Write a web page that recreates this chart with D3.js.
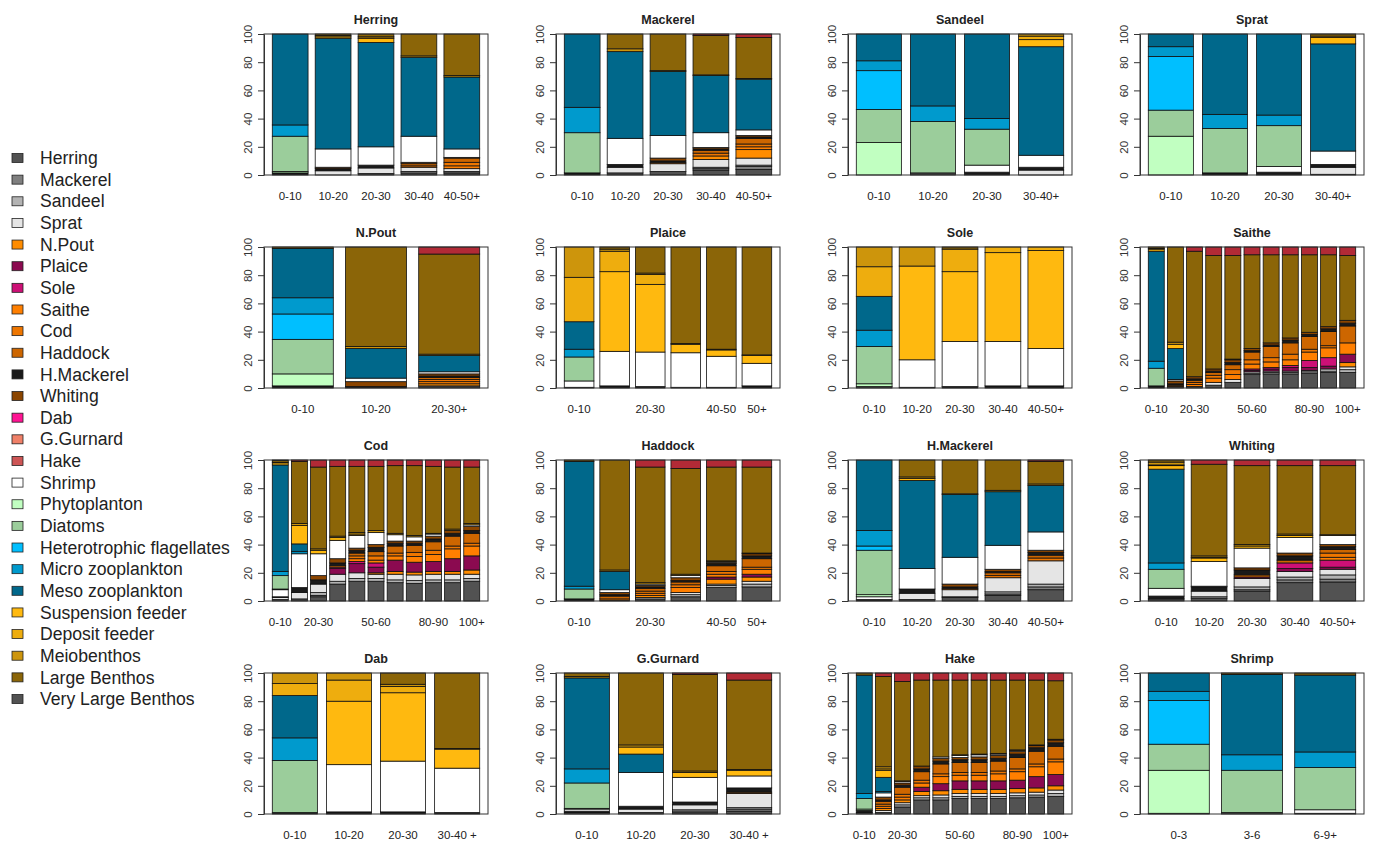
<!DOCTYPE html>
<html>
<head>
<meta charset="utf-8">
<script src="https://cdn.jsdelivr.net/npm/d3@7"></script>
<style>
	body { margin: 0; background: #fff; }
	svg { display: block; font-family: "Liberation Sans", Arial, sans-serif; }
	.lab { fill: #222; }
</style>
</head>
<body>
<svg width="1384" height="845"></svg>
<script>
const svg = d3.select("svg"),
	width = +svg.attr("width"),
	height = +svg.attr("height");

// prey groups, bottom of the stack first
const preyCodes = ["HER", "MAC", "SAN", "SPR", "NPO", "PLA", "SOL", "SAI", "COD", "HAD", "HMA", "WHI", "DAB", "GUR", "HAK", "SHR", "PHY", "DIA", "HFL", "MIC", "MES", "SUS", "DEP", "MEI", "LB", "VLB"];
const preyNames = ["Herring", "Mackerel", "Sandeel", "Sprat", "N.Pout", "Plaice", "Sole", "Saithe", "Cod", "Haddock", "H.Mackerel", "Whiting", "Dab", "G.Gurnard", "Hake", "Shrimp", "Phytoplanton", "Diatoms", "Heterotrophic flagellates", "Micro zooplankton", "Meso zooplankton", "Suspension feeder", "Deposit feeder", "Meiobenthos", "Large Benthos", "Very Large Benthos"];
const preyColors = ["#525252", "#7f7f7f", "#b3b3b3", "#e5e5e5", "#ff8c00", "#8b0a50", "#cd1076", "#ff7f00", "#ee7600", "#cd6600", "#1a1a1a", "#8b4500", "#ff1493", "#f08068", "#cd5555", "#ffffff", "#c1ffc1", "#9bcd9b", "#00bfff", "#009acd", "#00688b", "#ffb90f", "#eead0e", "#cd950c", "#8b6508", "#b22a36"];

const herringAges = ["0-10", "10-20", "20-30", "30-40", "40-50+"];
const herringDiet = [
	{ HMA: 1.5, PHY: 1, DIA: 25, MIC: 8, MES: 64.5 },
	{ SPR: 3, HMA: 1.5, WHI: 1, SHR: 13, MES: 78.5, SUS: 1, DEP: 1, LB: 1 },
	{ HER: 1, SPR: 4, HMA: 2, SHR: 13, MES: 74, SUS: 3, MEI: 1, LB: 2 },
	{ HER: 1.5, SAN: 1, SPR: 3, COD: 1, HAD: 1.5, WHI: 1, SHR: 18.5, MES: 56, MEI: 1, LB: 15.5 },
	{ HER: 1.5, MAC: 1, SPR: 2, SAI: 2, COD: 2.5, HAD: 3, WHI: 0.5, SHR: 6, MES: 51, MEI: 1, LB: 29.5 }
];

const mackerelAges = ["0-10", "10-20", "20-30", "30-40", "40-50+"];
const mackerelDiet = [
	{ HMA: 1.5, DIA: 28.5, MIC: 18, MES: 52 },
	{ HER: 1.5, SPR: 4, HMA: 2, SHR: 18.5, MES: 61.5, MEI: 2, LB: 10.5 },
	{ HER: 2.5, SPR: 5.5, HAD: 1, HMA: 1, WHI: 2, SHR: 16, MES: 45.5, MEI: 0.5, LB: 26 },
	{ HER: 3.5, MAC: 1, SAN: 1, SPR: 5.5, NPO: 2.5, COD: 2, HAD: 2, HMA: 1, WHI: 1, SHR: 10.5, MES: 40.5, MEI: 0.5, LB: 28, VLB: 1 },
	{ HER: 4, MAC: 2, SAN: 1, SPR: 5, NPO: 6, SAI: 2, COD: 2, HAD: 4, HMA: 1, WHI: 1, SHR: 4, MES: 36, MEI: 0.5, LB: 29, VLB: 2.5 }
];

const sandeelAges = ["0-10", "10-20", "20-30", "30-40+"];
const sandeelDiet = [
	{ PHY: 23, DIA: 23.5, HFL: 27.5, MIC: 7, MES: 19 },
	{ HER: 1.5, DIA: 36.5, MIC: 11, MES: 51 },
	{ HMA: 2, SHR: 5, DIA: 25.5, MIC: 7.5, MES: 60 },
	{ SPR: 3.5, HMA: 2, SHR: 8.5, MES: 77, SUS: 5, DEP: 2.5, MEI: 1.5 }
];

const spratAges = ["0-10", "10-20", "20-30", "30-40+"];
const spratDiet = [
	{ PHY: 27.5, DIA: 18.5, HFL: 38, MIC: 7, MES: 9 },
	{ HMA: 1.5, DIA: 31.5, MIC: 10, MES: 57 },
	{ HMA: 2, SHR: 4, DIA: 29, MIC: 7.5, MES: 57.5 },
	{ HER: 0.5, SPR: 5, HMA: 2, SHR: 9.5, MES: 76, SUS: 4.5, DEP: 1, LB: 1.5 }
];

const npoutAges = ["0-10", "10-20", "20-30+"];
const npoutDiet = [
	{ HMA: 1.5, PHY: 8.5, DIA: 24.5, HFL: 18, MIC: 11.5, MES: 35, LB: 1 },
	{ HMA: 1, WHI: 3.5, SHR: 2.5, MES: 21, MEI: 1.5, LB: 70.5 },
	{ HER: 1.5, NPO: 1.5, SAI: 1.5, COD: 1.5, HAD: 1.5, HMA: 1, WHI: 1.5, SHR: 1.5, MES: 11.5, MEI: 1, LB: 71, VLB: 5 }
];

const plaiceAges = ["0-10", "10-20", "20-30", "30-40", "40-50", "50+"];
const plaiceDiet = [
	{ HMA: 0.5, SHR: 4.5, DIA: 17, MIC: 5.5, MES: 19.5, DEP: 31.5, MEI: 21.5 },
	{ HMA: 1.5, SHR: 24.5, SUS: 56.5, DEP: 14.5, MEI: 1.5, LB: 1.5 },
	{ HMA: 1, SHR: 24.5, SUS: 48, DEP: 7, MEI: 1, LB: 18.5 },
	{ HMA: 0.5, SHR: 24.5, SUS: 6, MEI: 0.5, LB: 68.5 },
	{ HMA: 0.5, SHR: 22, SUS: 4.5, MEI: 0.5, LB: 72.5 },
	{ HMA: 1.5, SHR: 16, SUS: 5.5, MEI: 0.5, LB: 76.5 }
];

const soleAges = ["0-10", "10-20", "20-30", "30-40", "40-50+"];
const soleDiet = [
	{ HER: 1, PHY: 2, DIA: 26.5, MIC: 11.5, MES: 24, DEP: 21, MEI: 14 },
	{ HMA: 0.5, SHR: 19.5, SUS: 66.5, MEI: 13.5 },
	{ HMA: 1, SHR: 32, SUS: 49.5, DEP: 16, LB: 1.5 },
	{ HMA: 1.5, SHR: 31.5, SUS: 63, DEP: 4 },
	{ HMA: 1.5, SHR: 26.5, SUS: 69.5, DEP: 2.5 }
];

const saitheAges = ["0-10", "10-20", "20-30", "30-40", "40-50", "50-60", "60-70", "70-80", "80-90", "90-100", "100+"];
const saitheDiet = [
	{ HMA: 1.5, DIA: 12.5, MIC: 5, MES: 78, DEP: 1.5, MEI: 0.5, LB: 1 },
	{ HER: 1, HAD: 1, HMA: 1, WHI: 2, SHR: 1, MES: 22, SUS: 3, MEI: 1.5, LB: 67.5 },
	{ HER: 1, SAI: 1.5, COD: 1.5, HAD: 1.5, HMA: 1, WHI: 1.5, LB: 89, VLB: 3 },
	{ HER: 2, SPR: 2, SAI: 3, COD: 2, HAD: 2, HMA: 1, WHI: 1.5, LB: 80.5, VLB: 6 },
	{ HER: 4, SPR: 2, SAI: 3.5, COD: 3.5, HAD: 3.5, HMA: 1.5, WHI: 2, MEI: 0.5, LB: 73.5, VLB: 6 },
	{ HER: 9.5, SAN: 1, SPR: 1, PLA: 1, SOL: 1, SAI: 3.5, COD: 3, HAD: 5.5, HMA: 1, WHI: 1.5, LB: 66.5, VLB: 5.5 },
	{ HER: 10, SAN: 1, SPR: 1, PLA: 1.5, SOL: 1, SAI: 4, COD: 3, HAD: 8, HMA: 1, WHI: 1.5, LB: 62.5, VLB: 5.5 },
	{ HER: 10, SAN: 1, SPR: 1, PLA: 2.5, SOL: 1.5, SAI: 4, COD: 4, HAD: 8, HMA: 2, WHI: 1.5, LB: 59, VLB: 5.5 },
	{ HER: 10.5, SAN: 1, SPR: 1, PLA: 2, SOL: 5, SAI: 6, COD: 2, HAD: 9, HMA: 1.5, WHI: 1.5, LB: 55, VLB: 5.5 },
	{ HER: 11, SAN: 1, SPR: 1.5, PLA: 2, SOL: 6, SAI: 7, COD: 1.5, HAD: 10, HMA: 2, WHI: 1.5, LB: 51, VLB: 5.5 },
	{ HER: 11, SAN: 2, SPR: 2, NPO: 3, PLA: 6, SAI: 8, HAD: 12, HMA: 2, WHI: 2, LB: 46, VLB: 6 }
];

const codAges = ["0-10", "10-20", "20-30", "30-40", "40-50", "50-60", "60-70", "70-80", "80-90", "90-100", "100+"];
const codDiet = [
	{ HER: 1, SPR: 1.5, HMA: 0.5, SHR: 5, PHY: 0.5, DIA: 9.5, MIC: 3, MES: 75.5, SUS: 1.5, DEP: 0.5, MEI: 1, LB: 0.5 },
	{ HER: 1.5, SPR: 4.5, HMA: 3.5, SHR: 24, MIC: 1.5, MES: 5.5, SUS: 13, MEI: 1.5, LB: 44, VLB: 1 },
	{ HER: 3, MAC: 1, SAN: 2, SPR: 6, HMA: 3, WHI: 3, SHR: 15.5, SUS: 2.5, MEI: 1, LB: 58, VLB: 5 },
	{ HER: 12, SAN: 2, SPR: 5, PLA: 4, SOL: 1, COD: 1, HMA: 2, WHI: 3, SHR: 13, DEP: 2, MEI: 1, LB: 49.5, VLB: 4.5 },
	{ HER: 14, SAN: 2, SPR: 4, PLA: 6.5, SOL: 1.5, SAI: 2, COD: 2, HAD: 2, HMA: 2, WHI: 1.5, SHR: 9, DEP: 1, MEI: 1, LB: 47, VLB: 4.5 },
	{ HER: 14, SAN: 2, SPR: 3, NPO: 1, PLA: 4, SOL: 3, SAI: 2, COD: 3, HAD: 3, HMA: 3, WHI: 2, SHR: 8.5, MEI: 1.5, LB: 45.5, VLB: 4.5 },
	{ HER: 13, SAN: 2, SPR: 4, NPO: 2, PLA: 8, SAI: 3, COD: 2, HAD: 5, HMA: 2, WHI: 1.5, SHR: 4.5, MEI: 1, LB: 48, VLB: 4 },
	{ HER: 12.5, SAN: 2, SPR: 4, NPO: 2, PLA: 7, SAI: 4, COD: 3, HAD: 5, HMA: 1.5, WHI: 1.5, SHR: 3, MEI: 1, LB: 49.5, VLB: 4 },
	{ HER: 13, SAN: 2, SPR: 4, NPO: 2, PLA: 7, SAI: 5, COD: 3, HAD: 6, HMA: 2, WHI: 2, SHR: 1.5, MEI: 0.5, LB: 47.5, VLB: 4.5 },
	{ HER: 13, SAN: 2, SPR: 4, NPO: 2, PLA: 9, SAI: 7, COD: 2, HAD: 7, HMA: 2, WHI: 2, MEI: 1, LB: 44, VLB: 5 },
	{ HER: 14, SAN: 2, SPR: 3, NPO: 3, PLA: 10, SAI: 7, COD: 2, HAD: 7, HMA: 2, WHI: 3, SHR: 1, MEI: 1, LB: 40, VLB: 5 }
];

const haddockAges = ["0-10", "10-20", "20-30", "30-40", "40-50", "50+"];
const haddockDiet = [
	{ HMA: 1.5, DIA: 7, MIC: 2, MES: 88.5, LB: 1 },
	{ HER: 0.5, COD: 1, HAD: 2, HMA: 1, WHI: 1.5, SHR: 2, MES: 13, MEI: 1, LB: 78 },
	{ HER: 1.5, SPR: 1, NPO: 1.5, SAI: 1.5, COD: 1.5, HAD: 2, HMA: 1, WHI: 1, SHR: 1, MEI: 1, LB: 82, VLB: 5 },
	{ HER: 3, SAN: 1.5, SPR: 1.5, SAI: 3.5, COD: 2, HAD: 2, HMA: 1, WHI: 2, SHR: 1.5, MEI: 1, LB: 75, VLB: 6 },
	{ HER: 9.5, SAN: 1.5, SPR: 1, NPO: 3.5, PLA: 1.5, SAI: 2, COD: 2, HAD: 4, HMA: 1.5, WHI: 1, SHR: 0.5, MEI: 0.5, LB: 66.5, VLB: 5 },
	{ HER: 10, SAN: 2, SPR: 2, NPO: 3, PLA: 2, SAI: 3.5, COD: 1.5, HAD: 6, HMA: 2, WHI: 1.5, MEI: 0.5, LB: 61, VLB: 5 }
];

const hmackerelAges = ["0-10", "10-20", "20-30", "30-40", "40-50+"];
const hmackerelDiet = [
	{ HMA: 1, SHR: 2, PHY: 1.5, DIA: 31.5, HFL: 3, MIC: 11, MES: 50 },
	{ HER: 1, SPR: 4.5, HMA: 3, SHR: 14.5, MES: 62.5, SUS: 1.5, MEI: 1, LB: 12 },
	{ HER: 2.5, MAC: 0.5, SPR: 5, HAD: 1, HMA: 1, WHI: 2, SHR: 19, MES: 44.5, MEI: 0.5, LB: 24 },
	{ HER: 4, MAC: 1, SAN: 1.5, SPR: 10, COD: 1.5, HAD: 2, HMA: 1, WHI: 1.5, SHR: 17, MES: 38, MEI: 1, LB: 21.5 },
	{ HER: 8, MAC: 2, SAN: 2, SPR: 16.5, COD: 2, HAD: 2, HMA: 2, WHI: 1.5, SHR: 13, MES: 33, MEI: 1, LB: 16, VLB: 1 }
];

const whitingAges = ["0-10", "10-20", "20-30", "30-40", "40-50+"];
const whitingDiet = [
	{ HER: 1.5, HMA: 2, SHR: 5.5, DIA: 13.5, MIC: 4.5, MES: 66.5, SUS: 2.5, DEP: 0.5, MEI: 2, LB: 1.5 },
	{ HER: 2, SAN: 1, SPR: 4, HMA: 3, WHI: 0.5, SHR: 17.5, SUS: 2.5, DEP: 0.5, MEI: 1, LB: 65, VLB: 3 },
	{ HER: 7, MAC: 1, SAN: 2, SPR: 6, PLA: 1, HAD: 1.5, HMA: 3.5, WHI: 1.5, SHR: 14, SUS: 1.5, MEI: 1, LB: 56, VLB: 4 },
	{ HER: 13, MAC: 2, SAN: 2, SPR: 4, PLA: 2, SOL: 4, HAD: 2, HMA: 3, WHI: 2, SHR: 11, SUS: 1.5, MEI: 1, LB: 48.5, VLB: 4 },
	{ HER: 13.5, MAC: 2, SAN: 3, SPR: 4, PLA: 1.5, SOL: 5, SAI: 2, COD: 3, HAD: 2.5, HMA: 2, WHI: 1.5, SHR: 6.5, MEI: 0.5, LB: 49, VLB: 4 }
];

const dabAges = ["0-10", "10-20", "20-30", "30-40 +"];
const dabDiet = [
	{ HMA: 1, DIA: 37, MIC: 16, MES: 30, DEP: 8.5, MEI: 7.5 },
	{ HMA: 1.5, SHR: 33.5, SUS: 45, DEP: 15, MEI: 5 },
	{ HMA: 1.5, SHR: 36, SUS: 48.5, DEP: 4.5, MEI: 1.5, LB: 8 },
	{ HMA: 1, SHR: 31.5, SUS: 13.5, MEI: 0.5, LB: 53.5 }
];

const gurnardAges = ["0-10", "10-20", "20-30", "30-40 +"];
const gurnardDiet = [
	{ HER: 1, HMA: 1, SHR: 1.5, PHY: 0.5, DIA: 18, MIC: 10, MES: 64.5, MEI: 1, LB: 2.5 },
	{ HER: 1, SPR: 2.5, HMA: 2, SHR: 24, MES: 13, SUS: 5, MEI: 1.5, LB: 51 },
	{ HER: 1.5, MAC: 1.5, SPR: 3.5, HMA: 2, SHR: 17.5, SUS: 3.5, MEI: 1, LB: 68.5, VLB: 1 },
	{ HER: 2, MAC: 1.5, SAN: 1, SPR: 10, HAD: 1, HMA: 3, SHR: 8.5, SUS: 4, MEI: 0.5, LB: 63.5, VLB: 5 }
];

const hakeAges = ["0-10", "10-20", "20-30", "30-40", "40-50", "50-60", "60-70", "70-80", "80-90", "90-100", "100+"];
const hakeDiet = [
	{ HER: 1, HMA: 1.5, PHY: 1, DIA: 7.5, MIC: 3.5, MES: 84, LB: 1.5 },
	{ HER: 1, SPR: 1.5, NPO: 1.5, SAI: 1.5, COD: 1.5, HAD: 2, HMA: 1, WHI: 2, SHR: 3, MIC: 1, MES: 10, SUS: 5, DEP: 1, MEI: 1.5, LB: 64, VLB: 2.5 },
	{ HER: 5, SAN: 1.5, SPR: 1.5, NPO: 2, SAI: 2, COD: 2, HAD: 5, HMA: 1.5, WHI: 1.5, SHR: 1, MEI: 0.5, LB: 70.5, VLB: 6 },
	{ HER: 10, SAN: 1.5, SPR: 1.5, NPO: 3, PLA: 3, SAI: 3, COD: 2, HAD: 6, HMA: 2, WHI: 2, LB: 61, VLB: 5 },
	{ HER: 10, SAN: 1.5, SPR: 2, NPO: 3, PLA: 5, SAI: 5, COD: 2, HAD: 7, HMA: 2, WHI: 2, SHR: 1, LB: 54.5, VLB: 5 },
	{ HER: 11, SAN: 1.5, SPR: 2, NPO: 3, PLA: 6, SAI: 4, COD: 2, HAD: 7, HMA: 2, WHI: 1.5, SHR: 1.5, MEI: 0.5, LB: 53, VLB: 5 },
	{ HER: 11, SAN: 1.5, SPR: 2, NPO: 3, PLA: 6, SAI: 4, COD: 2, HAD: 7, HMA: 2, WHI: 2, SHR: 1.5, MEI: 0.5, LB: 52.5, VLB: 5 },
	{ HER: 11, SAN: 1.5, SPR: 2, NPO: 3, PLA: 6, SAI: 5, COD: 2, HAD: 7, HMA: 2, WHI: 2, SHR: 1, MEI: 0.5, LB: 52, VLB: 5 },
	{ HER: 11.5, SAN: 1.5, SPR: 2, NPO: 3, PLA: 6, SAI: 6, COD: 2, HAD: 8, HMA: 2.5, WHI: 2, SHR: 0.5, MEI: 0.5, LB: 49.5, VLB: 5 },
	{ HER: 12, SAN: 1.5, SPR: 2, NPO: 3, PLA: 8, SAI: 7, COD: 2, HAD: 9, HMA: 2.5, WHI: 1.5, MEI: 0.5, LB: 46, VLB: 5 },
	{ HER: 12.5, SAN: 2, SPR: 2.5, NPO: 3, PLA: 8, SAI: 9, COD: 2, HAD: 9, HMA: 2.5, WHI: 2, MEI: 0.5, LB: 41.5, VLB: 5.5 }
];

const shrimpAges = ["0-3", "3-6", "6-9+"];
const shrimpDiet = [
	{ HER: 0.5, PHY: 30.5, DIA: 18.5, HFL: 31, MIC: 6.5, MES: 13 },
	{ HER: 1, DIA: 30, MIC: 11, MES: 57, LB: 1 },
	{ HER: 0.5, SHR: 2.5, DIA: 30, MIC: 11, MES: 54.5, LB: 1.5 }
];

const yTicks = [0, 20, 40, 60, 80, 100];

const panels = [
	{ title: "Herring", ages: herringAges, diet: herringDiet },
	{ title: "Mackerel", ages: mackerelAges, diet: mackerelDiet },
	{ title: "Sandeel", ages: sandeelAges, diet: sandeelDiet },
	{ title: "Sprat", ages: spratAges, diet: spratDiet },
	{ title: "N.Pout", ages: npoutAges, diet: npoutDiet },
	{ title: "Plaice", ages: plaiceAges, diet: plaiceDiet },
	{ title: "Sole", ages: soleAges, diet: soleDiet },
	{ title: "Saithe", ages: saitheAges, diet: saitheDiet },
	{ title: "Cod", ages: codAges, diet: codDiet },
	{ title: "Haddock", ages: haddockAges, diet: haddockDiet },
	{ title: "H.Mackerel", ages: hmackerelAges, diet: hmackerelDiet },
	{ title: "Whiting", ages: whitingAges, diet: whitingDiet },
	{ title: "Dab", ages: dabAges, diet: dabDiet },
	{ title: "G.Gurnard", ages: gurnardAges, diet: gurnardDiet },
	{ title: "Hake", ages: hakeAges, diet: hakeDiet },
	{ title: "Shrimp", ages: shrimpAges, diet: shrimpDiet }
];

// grid of plot boxes
const colX = [264, 556, 848, 1140],
	rowY = [34, 247, 460, 673],
	boxW = 224,
	boxH = 141;

const colour = d3.scaleOrdinal().domain(preyCodes).range(preyColors);
const stack = d3.stack().keys(preyCodes).value((d, k) => d[k] || 0);
const y = d3.scaleLinear().domain([0, 100]).range([boxH, 0]);

panels.forEach(function (p, i) {
	const g = svg
		.append("g")
		.attr("transform", `translate(${colX[i % 4]},${rowY[Math.floor(i / 4)]})`);

	// R barplot: bar width 1, space 0.2, 4% padding round the bars
	const n = p.ages.length;
	const x = d3
		.scaleBand()
		.domain(p.ages)
		.range([0, boxW])
		.paddingInner(0.2 / 1.2)
		.paddingOuter((0.04 * (1.2 * n - 0.2)) / 1.2);

	const series = stack(p.diet.map((d, j) => Object.assign({ age: p.ages[j] }, d)));

	g.selectAll("g.layer")
		.data(series)
		.join("g")
		.attr("class", "layer")
		.attr("fill", (s) => colour(s.key))
		.selectAll("rect")
		.data((s) => s.filter((d) => d[1] - d[0] > 0))
		.join("rect")
		.attr("x", (d) => x(d.data.age))
		.attr("width", x.bandwidth())
		.attr("y", (d) => y(d[1]))
		.attr("height", (d) => y(d[0]) - y(d[1]))
		.attr("stroke", "#111")
		.attr("stroke-width", 0.8);

	g.append("rect")
		.attr("width", boxW)
		.attr("height", boxH)
		.attr("fill", "none")
		.attr("stroke", "#333")
		.attr("stroke-width", 1);

	const yAxis = g
		.append("g")
		.call(d3.axisLeft(y).tickValues(yTicks).tickSize(6).tickSizeOuter(0));
	yAxis.select(".domain").attr("stroke", "#333");
	yAxis.selectAll(".tick line").attr("stroke", "#333");
	yAxis
		.selectAll(".tick text")
		.attr("x", null)
		.attr("dy", null)
		.attr("transform", "translate(-12,0) rotate(-90)")
		.attr("text-anchor", "middle")
		.attr("fill", "#333")
		.style("font-size", "11.5px")
		.style("font-family", "'Liberation Sans', Arial, sans-serif");

	g.append("text")
		.attr("x", boxW / 2)
		.attr("y", -10)
		.attr("text-anchor", "middle")
		.attr("class", "lab")
		.style("font-size", "12.5px")
		.style("font-weight", "bold")
		.text(p.title);

	// age labels, skipping those that would collide (like R's axis)
	const labels = g
		.selectAll("text.age")
		.data(p.ages)
		.join("text")
		.attr("class", "age lab")
		.attr("x", (d) => x(d) + x.bandwidth() / 2)
		.attr("y", boxH + 25)
		.attr("text-anchor", "middle")
		.style("font-size", "11.5px")
		.text((d) => d);
	const gap = 0.833 * 11.5;
	let lastRight = -Infinity;
	labels.each(function () {
		const b = this.getBBox();
		if (b.x < lastRight + gap) d3.select(this).remove();
		else lastRight = b.x + b.width;
	});
});

// legend (its last swatch repeats the first colour, as in the original)
const legendSwatch = preyColors.map((c, i) => (i === preyColors.length - 1 ? preyColors[0] : c));
const legend = svg
	.append("g")
	.selectAll("g")
	.data(preyNames)
	.join("g")
	.attr("transform", (d, i) => `translate(0,${158 + i * 21.64})`);

legend
	.append("rect")
	.attr("x", 12)
	.attr("y", -4.5)
	.attr("width", 11)
	.attr("height", 9)
	.attr("fill", (d, i) => legendSwatch[i])
	.attr("stroke", "#222")
	.attr("stroke-width", 0.8);

legend
	.append("text")
	.attr("x", 40)
	.attr("dy", "0.35em")
	.attr("class", "lab")
	.style("font-size", "17.6px")
	.text((d) => d);
</script>
</body>
</html>
